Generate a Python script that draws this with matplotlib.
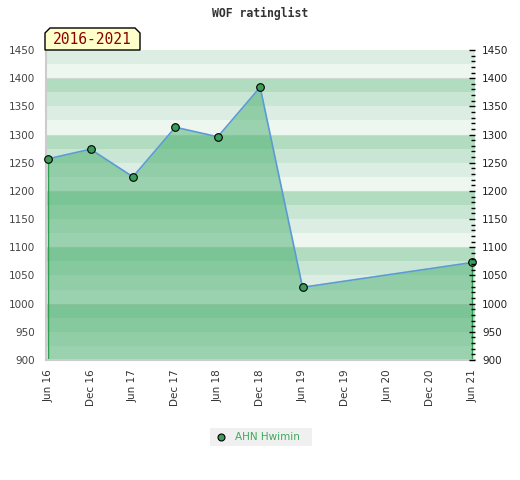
import matplotlib
matplotlib.use("Agg")
import matplotlib.pyplot as plt
from matplotlib.patches import Polygon

# data
months = [0, 6, 12, 18, 24, 30, 36, 60]   # months since Jun 2016
ratings = [1257, 1274, 1225, 1313, 1296, 1384, 1029, 1073]
tick_months = list(range(0, 61, 6))
tick_labels = ["Jun 16", "Dec 16", "Jun 17", "Dec 17", "Jun 18", "Dec 18",
               "Jun 19", "Dec 19", "Jun 20", "Dec 20", "Jun 21"]
y_ticks = list(range(900, 1451, 50))
series_name = "AHN Hwimin"
period = "2016-2021"
title = "WOF ratinglist"

fig = plt.figure(figsize=(5.2, 4.8), dpi=100)
ax = fig.add_axes([46 / 520, 1 - 360 / 480, 429 / 520, 310 / 480])
ax.set_xlim(-0.3, 60.4)
ax.set_ylim(900, 1450)

# striped background, four bands per 100 points
stripe_cols = ["#eef6f0", "#dcede3", "#c8e6d3", "#b2dcc0"]
for base in range(900, 1450, 100):
    for i, c in enumerate(stripe_cols):
        lo = base + 25 * i
        if lo >= 1450:
            break
        ax.axhspan(lo, min(lo + 25, 1450), color=c, lw=0, zorder=0)
for b in range(1000, 1450, 100):
    ax.axhline(b, color="#d0d8d2", lw=0.8, zorder=0.5)

ax.fill_between(months, ratings, 900, color="#40aa67", alpha=0.48, lw=0, zorder=1)
ax.plot([months[0], months[0]], [900, ratings[0]], color="#2e9e50", lw=1, zorder=2)
ax.plot([months[-1], months[-1]], [900, ratings[-1]], color="#2e9e50", lw=1, zorder=2)
ax.plot(months, ratings, color="#5b9bd5", lw=1.2, zorder=3)
ax.plot(months, ratings, "o", ms=5.5, mfc="#3a9e5a", mec="black", mew=0.8,
        zorder=4, clip_on=False)

ax.set_xticks(tick_months)
ax.set_xticklabels(tick_labels, rotation=90, fontsize=7.5, color="#333333")
ax.set_yticks(y_ticks)
ax.tick_params(axis="y", length=0, labelsize=7.5, labelcolor="#444444", pad=8)
ax.tick_params(axis="x", length=0, pad=7)
for s in ["top", "right"]:
    ax.spines[s].set_visible(False)
for s in ["left", "bottom"]:
    ax.spines[s].set_color("#cccccc")
    ax.spines[s].set_linewidth(1.5)

ax2 = ax.twinx()
ax2.set_ylim(900, 1450)
ax2.set_yticks(y_ticks)
ax2.set_yticks(range(900, 1451, 10), minor=True)
ax2.tick_params(axis="y", which="major", direction="in", length=4, width=1,
                labelsize=7.5, labelcolor="#222222", pad=5)
ax2.tick_params(axis="y", which="minor", direction="in", length=3, width=1)
for s in ax2.spines.values():
    s.set_visible(False)

fig.text(0.5, 1 - 13 / 480, title, ha="center", va="center", fontsize=8.3,
         family="DejaVu Sans Mono", fontweight="bold", color="#333333")

# period label box with clipped top corners
x0, x1 = 45 / 520, 140 / 520
y0, y1 = 1 - 50 / 480, 1 - 28 / 480
cx, cy = 5 / 520, 5 / 480
box = Polygon([(x0, y0), (x0, y1 - cy), (x0 + cx, y1), (x1 - cx, y1),
               (x1, y1 - cy), (x1, y0)], closed=True, transform=fig.transFigure,
              facecolor="#ffffcc", edgecolor="black", lw=1, zorder=10)
fig.patches.append(box)
fig.text((x0 + x1) / 2, (y0 + y1) / 2, period, ha="center", va="center",
         fontsize=10.5, family="DejaVu Sans Mono", color="#8b0000", zorder=11)

# legend
lx0, lx1 = 210 / 520, 312 / 520
ly0, ly1 = 1 - 446 / 480, 1 - 428 / 480
fig.patches.append(plt.Rectangle((lx0, ly0), lx1 - lx0, ly1 - ly0,
                                 transform=fig.transFigure, facecolor="#f0f0f0",
                                 edgecolor="none"))
fig.lines.append(plt.Line2D([221 / 520], [(ly0 + ly1) / 2], marker="o", ms=5,
                            mfc="#3a9e5a", mec="black", mew=0.8,
                            transform=fig.transFigure))
fig.text(235 / 520, (ly0 + ly1) / 2, series_name, ha="left", va="center",
         fontsize=7.5, color="#3daa5c")

fig.savefig("out.png", dpi=100)
